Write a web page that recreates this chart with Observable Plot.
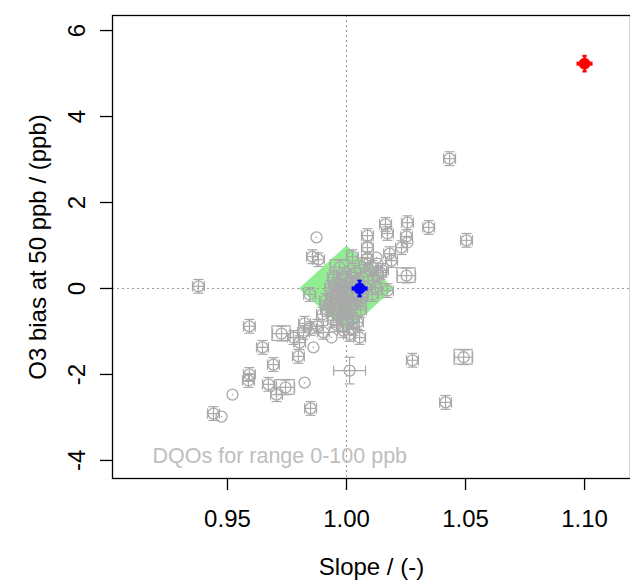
<!DOCTYPE html>
<html>
<head>
<meta charset="utf-8">
<script src="https://cdn.jsdelivr.net/npm/d3@7"></script>
<script src="https://cdn.jsdelivr.net/npm/@observablehq/plot@0.6"></script>
<style>
  html, body { margin: 0; padding: 0; background: #fff; }
  #chart svg { display: block; font-family: "Liberation Sans", Arial, Helvetica, sans-serif; }
</style>
</head>
<body>
<div id="chart"></div>
<script>
// ---- data ----
// kind: "b" = circle + error bars, "p" = plain circle, "x" = circle + error bars + box, "w" = wide error bars
const slope = [
  0.9378, 1.0433, 1.0504, 1.0345, 1.0256, 1.0164, 1.0172, 1.0252, 1.0256, 1.0231,
  1.0181, 1.0189, 1.0151, 1.0252, 1.0172, 1.0088, 1.0088, 1.0088, 1.0126, 1.0025,
  1.0076, 1.0109, 1.0143, 1.0130, 1.0113, 1.0122, 0.9874, 0.9857, 0.9882, 0.9971,
  0.9845, 0.9945, 0.9996, 0.9933, 0.9987, 1.0017, 0.9962, 1.0004, 1.0080, 1.0109,
  0.9975, 1.0017, 1.0059, 0.9945, 1.0059, 0.9966, 1.0004, 0.9983, 1.0029, 0.9945,
  1.0013, 1.0055, 0.9937, 0.9861, 0.9824, 0.9849, 0.9878, 0.9903, 0.9777, 0.9803,
  0.9727, 0.9798, 1.0277, 1.0492, 1.0013, 0.9824, 0.9744, 0.9592, 0.9647, 0.9693,
  0.9592, 0.9588, 0.9672, 0.9706, 0.9521, 0.9849, 0.9441, 0.9475, 1.0416, 0.9819,
  1.0038, 1.0050, 0.9996, 1.0025, 1.0042, 0.9979, 0.9958, 0.9996, 1.0029, 0.9912,
  0.9899, 1.0042, 1.0067, 1.0130, 1.0097, 0.9950, 1.0008, 1.0046, 0.9929, 1.0021,
  0.9941, 0.9970, 1.0000, 0.9958, 0.9987, 1.0063, 0.9916, 0.9983, 1.0034, 0.9966
];
const bias = [
  0.05, 3.02, 1.12, 1.42, 1.53, 1.49, 1.28, 1.21, 1.07, 0.95,
  0.81, 0.65, 0.42, 0.30, -0.05, 1.23, 0.95, 0.70, 0.72, 0.74,
  0.56, 0.49, 0.37, 0.30, 0.19, 0.02, 1.19, 0.74, 0.67, 0.49,
  -0.14, 0.26, 0.23, 0.02, 0.07, 0.14, -0.16, -0.16, 0.02, -0.14,
  -0.35, -0.40, -0.30, -0.47, -0.51, -0.63, -0.70, -0.86, -0.93, -0.74,
  -1.07, -1.14, -1.14, -1.37, -0.81, -0.93, -0.88, -1.02, -1.14, -1.26,
  -1.05, -1.58, -1.67, -1.60, -1.91, -2.19, -2.30, -0.88, -1.37, -1.77,
  -2.00, -2.14, -2.23, -2.47, -2.47, -2.79, -2.91, -2.98, -2.65, -1.02,
  0.37, 0.19, -0.05, -0.09, -0.23, -0.28, -0.09, -0.56, -0.72, -0.28,
  -0.60, 0.07, -0.12, 0.58, 0.44, 0.09, -0.33, -0.79, -0.40, 0.30,
  -0.21, -0.44, -0.51, -0.84, -0.98, -0.19, -0.49, 0.33, -0.35, -0.05
];
const kind = [
  "b","b","b","b","b","b","b","b","p","b",
  "b","b","b","x","b","b","b","b","p","b",
  "b","b","b","b","b","b","p","b","b","x",
  "b","b","b","b","b","b","b","b","b","b",
  "b","b","b","b","b","b","b","b","b","b",
  "b","b","p","p","b","b","b","b","b","b",
  "x","b","b","x","w","p","x","b","b","b",
  "b","b","b","b","p","b","b","p","b","b",
  "b","b","b","b","b","b","b","b","b","b",
  "b","b","b","p","b","b","b","b","b","b",
  "b","b","b","b","b","b","b","b","b","b"
];
// highlighted points
const hiSlope = [1.1000, 1.0055];
const hiBias  = [5.23, 0.00];
const hiColor = ["#FF0000", "#0000FF"];

// DQO diamond (range 0-100 ppb)
const dqoSlope = [0.98, 1.00, 1.02, 1.00, 0.98];
const dqoBias  = [0.00, 1.00, 0.00, -1.00, 0.00];

const xTicks = [0.95, 1.00, 1.05, 1.10];
const yTicks = [-4, -2, 0, 2, 4, 6];

// ---- styles ----
const errSize = {b: [0.0025, 0.16], p: [0, 0], x: [0.0038, 0.17], w: [0.0067, 0.31]};
const GRAY = "#A9A9A9";

const pts = slope.map((s, i) => {
  const [ex, ey] = errSize[kind[i]];
  return {s, b: bias[i], k: kind[i], ex, ey, cx: 0.0021, cy: 0.12};
});
const errPts = pts.filter(d => d.k !== "p");
const boxPts = pts.filter(d => d.k === "x");
const plainPts = pts.filter(d => d.k === "p");
const hi = hiSlope.map((s, i) => ({s, b: hiBias[i], c: hiColor[i], ex: 0.0029, ey: 0.18, cx: 0.0009, cy: 0.05}));
const dqo = dqoSlope.map((s, i) => ({s, b: dqoBias[i]}));

function errMarks(data, color, sw) {
  const o = {stroke: color, strokeWidth: sw};
  return [
    Plot.link(data, {x1: d => d.s - d.ex, x2: d => d.s + d.ex, y1: "b", y2: "b", ...o}),
    Plot.link(data, {x1: "s", x2: "s", y1: d => d.b - d.ey, y2: d => d.b + d.ey, ...o}),
    Plot.link(data, {x1: d => d.s - d.ex, x2: d => d.s - d.ex, y1: d => d.b - d.cy, y2: d => d.b + d.cy, ...o}),
    Plot.link(data, {x1: d => d.s + d.ex, x2: d => d.s + d.ex, y1: d => d.b - d.cy, y2: d => d.b + d.cy, ...o}),
    Plot.link(data, {x1: d => d.s - d.cx, x2: d => d.s + d.cx, y1: d => d.b - d.ey, y2: d => d.b - d.ey, ...o}),
    Plot.link(data, {x1: d => d.s - d.cx, x2: d => d.s + d.cx, y1: d => d.b + d.ey, y2: d => d.b + d.ey, ...o})
  ];
}

const chart = Plot.plot({
  width: 630,
  height: 582,
  marginLeft: 112,
  marginRight: 0,
  marginTop: 15,
  marginBottom: 104,
  style: {fontFamily: "'Liberation Sans', Arial, Helvetica, sans-serif", background: "#fff"},
  x: {domain: [0.9017, 1.1193]},
  y: {domain: [-4.42, 6.35]},
  marks: [
    Plot.line(dqo, {x: "s", y: "b", fill: "#90EE90", stroke: "none"}),
    Plot.ruleX([1], {stroke: "#999", strokeDasharray: "2,3", strokeWidth: 1}),
    Plot.ruleY([0], {stroke: "#999", strokeDasharray: "2,3", strokeWidth: 1}),
    Plot.text(["DQOs for range 0-100 ppb"], {frameAnchor: "bottom-left", dx: 40, dy: -16, fill: "#BEBEBE", fontSize: 21.5, textAnchor: "start", lineAnchor: "bottom"}),
    Plot.rect(boxPts, {x1: d => d.s - d.ex, x2: d => d.s + d.ex, y1: d => d.b - d.ey, y2: d => d.b + d.ey, stroke: GRAY, fill: "none", strokeWidth: 1.2}),
    ...errMarks(errPts, GRAY, 1.2),
    Plot.dot(pts, {x: "s", y: "b", r: 5.5, stroke: GRAY, fill: "none", strokeWidth: 1.3}),
    Plot.dot(plainPts, {x: "s", y: "b", r: 0.8, fill: GRAY, stroke: "none"}),
    ...errMarks(hi.slice(0, 1), "#FF0000", 2.2),
    ...errMarks(hi.slice(1), "#0000FF", 2.2),
    Plot.dot(hi, {x: "s", y: "b", r: 5.5, fill: "c", stroke: "c", strokeWidth: 1}),
    Plot.frame({stroke: "#000", strokeWidth: 1.3}),
    Plot.axisX({ticks: xTicks, tickFormat: d3.format(".2f"), tickSize: 12, tickPadding: 19, fontSize: 24, label: null, stroke: "#000", strokeWidth: 1.3}),
    Plot.axisY({ticks: yTicks, tickSize: 12, text: null, label: null, stroke: "#000", strokeWidth: 1.3}),
    Plot.text(yTicks, {y: d => d, frameAnchor: "left", dx: -35, rotate: -90, text: d => String(d), fontSize: 24, textAnchor: "middle", lineAnchor: "middle", fill: "#000"}),
    Plot.text(["Slope / (-)"], {frameAnchor: "bottom", dy: 96, fontSize: 24, lineAnchor: "bottom", fill: "#000"}),
    Plot.text(["O3 bias at 50 ppb / (ppb)"], {frameAnchor: "left", dx: -74, rotate: -90, fontSize: 24, textAnchor: "middle", lineAnchor: "middle", fill: "#000"})
  ]
});
document.getElementById("chart").appendChild(chart);
</script>
</body>
</html>
